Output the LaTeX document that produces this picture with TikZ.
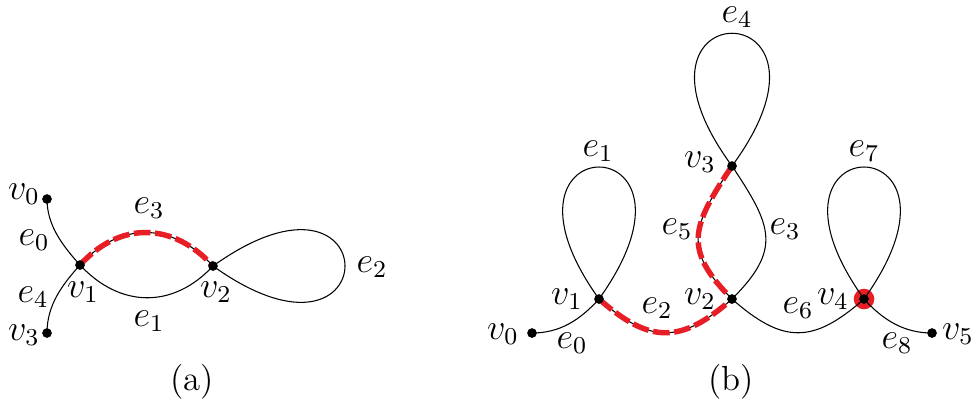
\documentclass[tikz,border=0pt]{standalone}
\definecolor{walkred}{RGB}{232,30,38}
\tikzset{
  edge/.style={line width=0.35pt},
  walk/.style={walkred, line width=1.8pt, dash pattern=on 5.5pt off 1.5pt},
  vdot/.style={circle, fill=black, inner sep=0pt, minimum size=3.2pt},
  lbl/.style={inner sep=0pt, font=\fontsize{11.5pt}{14pt}\selectfont},
}
\begin{document}
\begin{tikzpicture}[x=0.33pt, y=-0.33pt]
\useasboundingbox (0,0) rectangle (974,401);
% (a)
\coordinate (a0) at (47,199);
\coordinate (a1) at (80,265);
\coordinate (a2) at (213,266);
\coordinate (a3) at (47,333);
\draw[edge] (a0) .. controls +(0,26) and +(-18,-20) .. (a1);
\draw[edge] (a1) .. controls +(-18,20) and +(0,-28) .. (a3);
\draw[edge] (a1) .. controls +(40,43) and +(-40,43) .. (a2);
\draw[edge] (a1) .. controls +(40,-44) and +(-40,-44) .. (a2);
\draw[edge] (a2) .. controls +(176,-126) and +(176,126) .. (a2);
\draw[walk] (a1) .. controls +(40,-44) and +(-40,-44) .. (a2);
\foreach \v in {a0,a1,a2,a3} \node[vdot] (\v dot) at (\v) {};
\node[lbl] (la0) at (24,194) {$v_0$};
\node[lbl] (la1) at (83,292) {$v_1$};
\node[lbl] (la2) at (216,292) {$v_2$};
\node[lbl] (la3) at (24,335) {$v_3$};
\node[lbl] (lae0) at (34,240) {$e_0$};
\node[lbl] (lae1) at (149,321) {$e_1$};
\node[lbl] (lae2) at (372,267) {$e_2$};
\node[lbl] (lae3) at (149,208) {$e_3$};
\node[lbl] (lae4) at (33,297) {$e_4$};
\node[lbl] (capa) at (192,382) {(a)};
% (b)
\coordinate (b0) at (532,333);
\coordinate (b1) at (599,299);
\coordinate (b2) at (732,299);
\coordinate (b3) at (732,166);
\coordinate (b4) at (864,299);
\coordinate (b5) at (932,333);
\fill[walkred] (b4) circle (3.4pt);
\draw[edge] (b0) .. controls +(28,0) and +(-19,21) .. (b1);
\draw[edge] (b1) .. controls +(-126,-176) and +(126,-176) .. (b1);
\draw[edge] (b1) .. controls +(51,45) and +(-51,45) .. (b2);
\draw[edge] (b3) .. controls +(40,60) and +(50,-50) .. (b2);
\draw[edge] (b3) .. controls +(-40,60) and +(-50,-50) .. (b2);
\draw[edge] (b3) .. controls +(-130,-177) and +(130,-177) .. (b3);
\draw[edge] (b2) .. controls +(51,45) and +(-51,45) .. (b4);
\draw[edge] (b4) .. controls +(-126,-176) and +(126,-176) .. (b4);
\draw[edge] (b4) .. controls +(19,21) and +(-28,0) .. (b5);
\draw[walk] (b3) .. controls +(-40,60) and +(-50,-50) .. (b2);
\draw[walk] (b1) .. controls +(51,45) and +(-51,45) .. (b2);
\foreach \v in {b0,b1,b2,b3,b4,b5} \node[vdot] (\v dot) at (\v) {};
\node[lbl] (lb0) at (503,334) {$v_0$};
\node[lbl] (lb1) at (567,299) {$v_1$};
\node[lbl] (lb2) at (700,299) {$v_2$};
\node[lbl] (lb3) at (700,162) {$v_3$};
\node[lbl] (lb4) at (833,299) {$v_4$};
\node[lbl] (lb5) at (958,334) {$v_5$};
\node[lbl] (lbe0) at (572,343) {$e_0$};
\node[lbl] (lbe1) at (598,151) {$e_1$};
\node[lbl] (lbe2) at (657,308) {$e_2$};
\node[lbl] (lbe3) at (785,229) {$e_3$};
\node[lbl] (lbe4) at (737,17) {$e_4$};
\node[lbl] (lbe5) at (677,229) {$e_5$};
\node[lbl] (lbe6) at (798,308) {$e_6$};
\node[lbl] (lbe7) at (864,151) {$e_7$};
\node[lbl] (lbe8) at (897,343) {$e_8$};
\node[lbl] (capb) at (731,382) {(b)};
\end{tikzpicture}
\end{document}
